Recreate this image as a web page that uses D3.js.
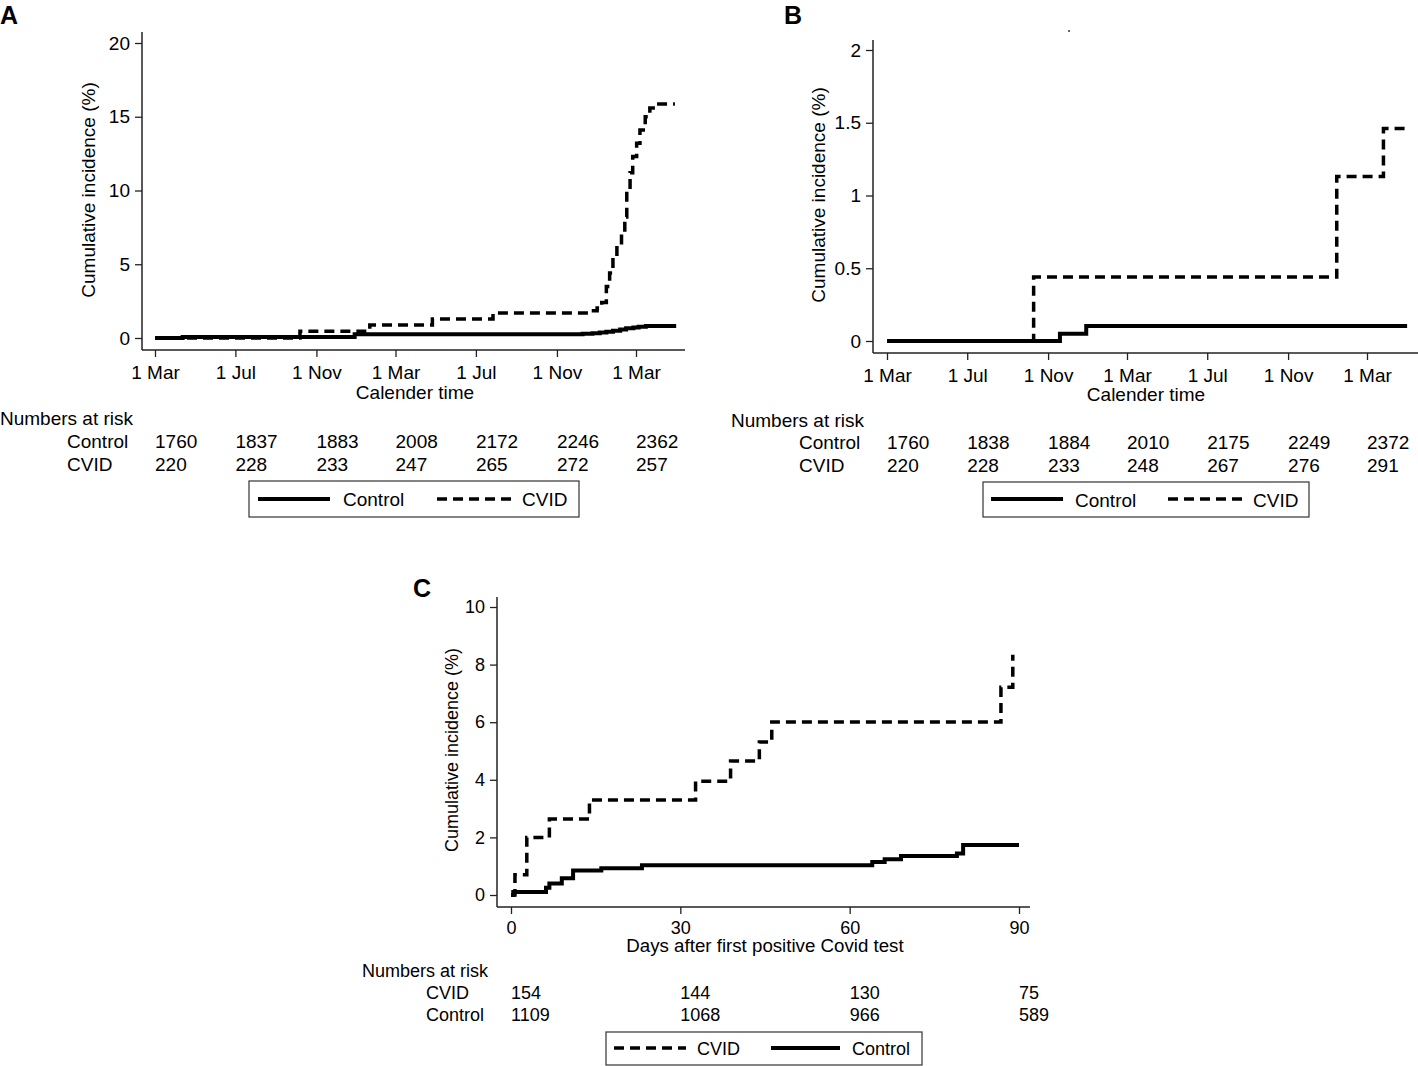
<!DOCTYPE html>
<html>
<head>
<meta charset="utf-8">
<script src="https://cdn.jsdelivr.net/npm/d3@7"></script>
<style>
  html, body { margin: 0; padding: 0; background: #fff; }
  svg { display: block; }
  text { font-family: "Liberation Sans", Arial, sans-serif; fill: #000; }
</style>
</head>
<body>
<svg id="chart" width="1418" height="1066"></svg>
<script>
// ---------------- DATA ----------------
const calTickDates = ["2020-03-01","2020-07-01","2020-11-01","2021-03-01","2021-07-01","2021-11-01","2022-03-01"];

// Panel A
const aYTicks = [0, 5, 10, 15, 20];
const aControlDates = ["2020-03-01","2020-04-12","2020-12-29","2021-12-10","2021-12-25","2022-01-05","2022-01-15","2022-01-25","2022-02-05","2022-02-14","2022-02-25","2022-03-05","2022-03-16","2022-05-01"];
const aControlValues = [0, 0.07, 0.25, 0.28, 0.33, 0.38, 0.43, 0.5, 0.57, 0.66, 0.72, 0.77, 0.81, 0.81];
const aCvidDates = ["2020-03-01","2020-10-07","2021-01-21","2021-04-26","2021-07-27","2021-12-20","2022-01-01","2022-01-08","2022-01-15","2022-01-20","2022-01-25","2022-01-31","2022-02-07","2022-02-12","2022-02-15","2022-02-20","2022-02-24","2022-03-02","2022-03-07","2022-03-15","2022-03-22","2022-04-01","2022-04-29"];
const aCvidValues = [0, 0.45, 0.88, 1.29, 1.7, 1.85, 2.03, 2.4, 3.5, 4.4, 5.5, 6.3, 7.1, 8.2, 10.0, 11.2, 12.3, 13.2, 14.1, 15.0, 15.6, 15.86, 15.86];
const aRiskControl = [1760, 1837, 1883, 2008, 2172, 2246, 2362];
const aRiskCvid = [220, 228, 233, 247, 265, 272, 257];

// Panel B
const bYTicks = [0, 0.5, 1, 1.5, 2];
const bControlDates = ["2020-03-01","2020-11-19","2020-12-29","2022-05-01"];
const bControlValues = [0, 0.05, 0.103, 0.103];
const bCvidDates = ["2020-03-01","2020-10-10","2022-01-14","2022-03-26","2022-05-01"];
const bCvidValues = [0, 0.44, 1.13, 1.46, 1.46];
const bRiskControl = [1760, 1838, 1884, 2010, 2175, 2249, 2372];
const bRiskCvid = [220, 228, 233, 248, 267, 276, 291];

// Panel C
const cXTicks = [0, 30, 60, 90];
const cYTicks = [0, 2, 4, 6, 8, 10];
const cCvidDays = [0, 0.7, 2.8, 6.8, 13.9, 32.7, 38.9, 44, 46.2, 86.8, 88.9];
const cCvidValues = [0, 0.7, 2.0, 2.64, 3.3, 3.95, 4.65, 5.31, 6.01, 7.21, 8.34];
const cControlDays = [0, 0.4, 6.2, 6.8, 9, 11, 16, 23.2, 64, 66.2, 69.1, 79, 80.1, 90];
const cControlValues = [0, 0.1, 0.25, 0.4, 0.58, 0.85, 0.93, 1.03, 1.15, 1.24, 1.35, 1.44, 1.74, 1.74];
const cRiskCvid = [154, 144, 130, 75];
const cRiskControl = [1109, 1068, 966, 589];

// ---------------- DRAW ----------------
const parse = d3.timeParse("%Y-%m-%d");
const svg = d3.select("#chart");
const FONT = '"Liberation Sans", Arial, sans-serif';
const DASH = "10,6";
const LW_SOLID = 4;
const LW_DASH = 3.5;

function zip(xs, ys, px) { return xs.map((x, i) => ({ t: px ? px(x) : x, v: ys[i] })); }

function panel(cfg) {
  const g = svg.append("g");
  const x = cfg.x, y = cfg.y;
  const fs = cfg.fs;

  // panel letter
  g.append("text").attr("x", cfg.letterX).attr("y", cfg.letterY)
    .attr("font-size", 25).attr("font-weight", "bold").text(cfg.letter);

  // y axis
  const yAx = g.append("g").attr("transform", `translate(${cfg.axX},0)`)
    .call(d3.axisLeft(y).tickValues(cfg.yTicks).tickSize(7).tickPadding(5).tickSizeOuter(0)
      .tickFormat(cfg.yFmt || (d => d)));
  yAx.select(".domain").remove();
  yAx.selectAll("line").attr("stroke", "#222").attr("stroke-width", 1.3);
  yAx.selectAll("text").attr("font-size", fs).attr("font-family", FONT).attr("fill", "#000");
  g.append("line").attr("x1", cfg.axX).attr("x2", cfg.axX).attr("y1", cfg.axY).attr("y2", cfg.yTop)
    .attr("stroke", "#222").attr("stroke-width", 1.5);

  // x axis
  const xAx = g.append("g").attr("transform", `translate(0,${cfg.axY})`)
    .call(d3.axisBottom(x).tickValues(cfg.xTicks).tickSize(7).tickPadding(cfg.xPad).tickSizeOuter(0)
      .tickFormat(cfg.xFmt));
  xAx.select(".domain").remove();
  xAx.selectAll("line").attr("stroke", "#222").attr("stroke-width", 1.3);
  xAx.selectAll("text").attr("font-size", fs).attr("font-family", FONT).attr("fill", "#000");
  g.append("line").attr("x1", cfg.axX).attr("x2", cfg.xRight).attr("y1", cfg.axY).attr("y2", cfg.axY)
    .attr("stroke", "#222").attr("stroke-width", 1.5);

  // titles
  g.append("text").attr("transform", `translate(${cfg.yTitleX},${cfg.yTitleY}) rotate(-90)`)
    .attr("text-anchor", "middle").attr("dominant-baseline", "central").attr("font-size", fs)
    .text("Cumulative incidence (%)");
  g.append("text").attr("x", cfg.xTitleX).attr("y", cfg.xTitleY).attr("text-anchor", "middle")
    .attr("font-size", cfg.xTitleFs || fs).text(cfg.xTitle);

  // curves
  const line = d3.line().x(d => x(d.t)).y(d => y(d.v)).curve(d3.curveStepAfter);
  cfg.series.forEach(s => {
    g.append("path").datum(s.data).attr("d", line).attr("fill", "none")
      .attr("stroke", "#000").attr("stroke-width", s.dashed ? LW_DASH : LW_SOLID)
      .attr("stroke-dasharray", s.dashed ? DASH : null);
  });

  // numbers at risk
  g.append("text").attr("x", cfg.riskX).attr("y", cfg.riskTitleY).attr("font-size", fs).text("Numbers at risk");
  cfg.riskRows.forEach((r, i) => {
    const yy = cfg.riskRowY[i];
    g.append("text").attr("x", cfg.riskLabelX).attr("y", yy).attr("font-size", fs).text(r.label);
    r.values.forEach((v, j) => {
      g.append("text").attr("x", x(cfg.xTicks[j])).attr("y", yy).attr("font-size", fs).text(v);
    });
  });

  // legend
  const L = cfg.legend;
  g.append("rect").attr("x", L.x).attr("y", L.y).attr("width", L.w).attr("height", L.h)
    .attr("fill", "none").attr("stroke", "#333").attr("stroke-width", 1.2);
  L.items.forEach(it => {
    g.append("line").attr("x1", it.x1).attr("x2", it.x2).attr("y1", L.ly).attr("y2", L.ly)
      .attr("stroke", "#000").attr("stroke-width", it.dashed ? LW_DASH : LW_SOLID)
      .attr("stroke-dasharray", it.dashed ? DASH : null);
    g.append("text").attr("x", it.tx).attr("y", L.ty).attr("font-size", fs).text(it.label);
  });
}

const calFmt = d3.timeFormat("%-d %b");
const calTicks = calTickDates.map(parse);

// Panel A
const xA = d3.scaleTime().domain([parse("2020-03-01"), parse("2022-03-01")]).range([155, 636]);
const yA = d3.scaleLinear().domain([0, 20]).range([338, 43]);
panel({
  letter: "A", letterX: 0, letterY: 24, fs: 19,
  x: xA, y: yA, axX: 142, axY: 350, yTop: 32, xRight: 685,
  yTicks: aYTicks, xTicks: calTicks, xFmt: calFmt, xPad: 9,
  yTitleX: 88, yTitleY: 190, xTitleX: 415, xTitleY: 399, xTitle: "Calender time",
  series: [
    { data: zip(aControlDates, aControlValues, parse), dashed: false },
    { data: zip(aCvidDates, aCvidValues, parse), dashed: true }
  ],
  riskX: 0, riskTitleY: 425, riskLabelX: 67, riskRowY: [448, 471],
  riskRows: [{ label: "Control", values: aRiskControl }, { label: "CVID", values: aRiskCvid }],
  legend: { x: 249, y: 481, w: 330, h: 36, ly: 499, ty: 506,
    items: [ { x1: 258, x2: 330, tx: 343, label: "Control", dashed: false },
             { x1: 437, x2: 511, tx: 522, label: "CVID", dashed: true } ] }
});

// Panel B
const xB = d3.scaleTime().domain([parse("2020-03-01"), parse("2022-03-01")]).range([887, 1367]);
const yB = d3.scaleLinear().domain([0, 2]).range([341, 50]);
panel({
  letter: "B", letterX: 784, letterY: 24, fs: 19,
  x: xB, y: yB, axX: 873, axY: 353, yTop: 40, xRight: 1418,
  yTicks: bYTicks, xTicks: calTicks, xFmt: calFmt, xPad: 9, yFmt: d => d3.format("~g")(d),
  yTitleX: 818, yTitleY: 195, xTitleX: 1146, xTitleY: 401, xTitle: "Calender time",
  series: [
    { data: zip(bControlDates, bControlValues, parse), dashed: false },
    { data: zip(bCvidDates, bCvidValues, parse), dashed: true }
  ],
  riskX: 731, riskTitleY: 427, riskLabelX: 799, riskRowY: [449, 472],
  riskRows: [{ label: "Control", values: bRiskControl }, { label: "CVID", values: bRiskCvid }],
  legend: { x: 983, y: 482, w: 326, h: 35, ly: 499, ty: 507,
    items: [ { x1: 991, x2: 1063, tx: 1075, label: "Control", dashed: false },
             { x1: 1168, x2: 1242, tx: 1253, label: "CVID", dashed: true } ] }
});
// small stray dot present in the original figure
svg.append("circle").attr("cx", 1069).attr("cy", 31).attr("r", 1).attr("fill", "#333");

// Panel C
const xC = d3.scaleLinear().domain([0, 90]).range([511, 1019]);
const yC = d3.scaleLinear().domain([0, 10]).range([895, 607]);
panel({
  letter: "C", letterX: 413, letterY: 597, fs: 18,
  x: xC, y: yC, axX: 497, axY: 907, yTop: 597, xRight: 1030,
  yTicks: cYTicks, xTicks: cXTicks, xFmt: d => d, xPad: 7,
  yTitleX: 452, yTitleY: 750, xTitleX: 765, xTitleY: 952, xTitleFs: 18.7,
  xTitle: "Days after first positive Covid test",
  series: [
    { data: zip(cControlDays, cControlValues), dashed: false },
    { data: zip(cCvidDays, cCvidValues), dashed: true }
  ],
  riskX: 362, riskTitleY: 977, riskLabelX: 426, riskRowY: [999, 1021],
  riskRows: [{ label: "CVID", values: cRiskCvid }, { label: "Control", values: cRiskControl }],
  legend: { x: 606, y: 1032, w: 316, h: 33, ly: 1048, ty: 1055,
    items: [ { x1: 614, x2: 686, tx: 697, label: "CVID", dashed: true },
             { x1: 771, x2: 840, tx: 852, label: "Control", dashed: false } ] }
});
</script>
</body>
</html>
